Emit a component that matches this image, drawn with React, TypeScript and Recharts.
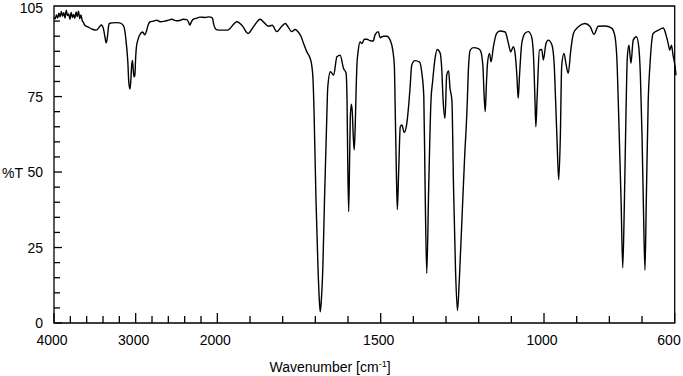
import React from "react";
import { LineChart, Line, XAxis, YAxis, ReferenceArea, Label } from "recharts";

// IR spectrum (cm-1 -> %T)
const wavenumbers = [
  4000, 3985, 3970, 3955, 3940, 3925, 3910, 3895, 3880, 3865, 3850, 3835, 3820, 3805, 3790,
  3775, 3760, 3745, 3730, 3715, 3700, 3685, 3670, 3655, 3640, 3626, 3580, 3530, 3482, 3440,
  3421, 3395, 3375, 3360, 3345, 3330, 3319, 3250, 3196, 3150, 3134, 3120, 3100, 3094, 3085,
  3070, 3060, 3050, 3040, 3030, 3020, 3010, 3000, 2991, 2970, 2951, 2914, 2890, 2870, 2850,
  2828, 2780, 2742, 2700, 2644, 2600, 2558, 2500, 2460, 2420, 2374, 2350, 2337, 2320, 2301,
  2250, 2215, 2150, 2100, 2060, 2045, 2030, 2010, 1991, 1969, 1940, 1924, 1906, 1887, 1869,
  1857, 1844, 1832, 1818, 1805, 1792, 1783, 1772, 1762, 1753, 1744, 1736, 1726, 1716, 1712,
  1707, 1704, 1698, 1692, 1688, 1685, 1682, 1677, 1672, 1665, 1662, 1654, 1644, 1634, 1624,
  1614, 1606, 1603, 1601, 1598, 1595, 1593, 1590, 1587, 1584, 1581, 1578, 1575, 1573, 1569,
  1563, 1557, 1550, 1542, 1532, 1523, 1517, 1507, 1502, 1492, 1481, 1471, 1463, 1458, 1456,
  1452, 1449, 1445, 1440, 1435, 1428, 1420, 1413, 1410, 1405, 1395, 1381, 1374, 1368, 1364,
  1359, 1353, 1346, 1341, 1334, 1327, 1318, 1313, 1309, 1303, 1298, 1292, 1288, 1282, 1277,
  1271, 1265, 1259, 1251, 1243, 1236, 1231, 1226, 1216, 1201, 1194, 1187, 1184, 1180, 1176,
  1173, 1167, 1162, 1155, 1145, 1135, 1119, 1109, 1102, 1094, 1089, 1083, 1079, 1075, 1068,
  1058, 1048, 1038, 1032, 1028, 1025, 1021, 1014, 1007, 1002, 994, 987, 976, 969, 965,
  960, 955, 950, 946, 939, 933, 926, 918, 910, 895, 875, 859, 847, 834, 813,
  793, 783, 776, 771, 764, 759, 754, 749, 745, 740, 734, 727, 717, 710, 705,
  700, 696, 691, 687, 681, 676, 666, 650, 635, 628, 620, 615, 610, 605, 599,
  596,
];
const transmittance = [
  101.2, 100.8, 102.0, 101.0, 102.6, 101.4, 103.2, 101.6, 102.8, 101.0, 103.6, 101.8, 102.4, 100.6, 102.9,
  101.2, 102.2, 100.9, 103.0, 101.5, 103.3, 100.8, 102.0, 100.2, 99.6, 98.7, 98.0, 97.3, 97.0, 98.2,
  98.7, 97.5, 94.5, 92.8, 95.0, 98.6, 99.3, 99.5, 99.4, 98.5, 97.0, 94.0, 88.0, 85.4, 80.0,
  77.5, 80.0, 85.0, 87.0, 84.0, 81.5, 82.0, 88.0, 91.4, 94.0, 95.4, 96.4, 95.5, 96.5, 98.5,
  99.7, 100.0, 100.3, 99.8, 100.0, 100.3, 100.6, 100.1, 100.2, 100.6, 100.5, 99.5, 98.7, 99.6, 100.5,
  101.0, 101.3, 101.2, 101.4, 101.0, 99.0, 97.8, 97.2, 97.0, 97.0, 99.8, 98.5, 95.9, 98.5, 100.6,
  99.5, 98.3, 98.6, 96.5, 98.0, 99.2, 98.0, 96.5, 97.2, 96.5, 95.0, 92.6, 89.8, 87.7, 86.0,
  80.5, 70.0, 40.7, 18.6, 8.0, 3.7, 7.0, 18.6, 40.7, 68.0, 78.0, 83.2, 82.1, 88.2, 88.7,
  84.4, 82.8, 73.8, 55.0, 36.9, 55.0, 68.0, 72.5, 70.0, 62.0, 57.3, 65.0, 78.0, 84.9, 90.0,
  93.1, 92.6, 94.0, 94.0, 93.5, 93.4, 95.5, 96.5, 94.5, 95.0, 95.0, 93.7, 90.4, 84.9, 73.8,
  50.0, 37.6, 50.0, 65.0, 65.6, 63.1, 66.1, 73.8, 78.0, 85.4, 86.9, 86.4, 82.8, 75.0, 45.0,
  16.5, 45.0, 73.8, 80.0, 87.3, 90.6, 89.4, 84.0, 74.0, 67.8, 82.0, 83.5, 78.0, 73.8, 45.0,
  18.0, 4.1, 15.0, 35.0, 55.0, 70.0, 85.0, 90.4, 91.2, 90.9, 90.1, 84.9, 77.0, 70.0, 80.0,
  86.0, 89.3, 86.5, 91.5, 95.9, 96.7, 96.4, 92.6, 89.8, 91.5, 89.7, 81.8, 74.4, 82.0, 92.7,
  96.0, 96.5, 94.8, 88.0, 75.0, 65.0, 75.0, 90.4, 90.6, 87.1, 92.6, 93.7, 92.2, 86.0, 75.0,
  60.0, 47.4, 62.0, 84.9, 89.3, 86.0, 82.7, 90.4, 95.9, 98.1, 99.2, 98.2, 95.6, 98.3, 98.4,
  97.7, 95.0, 85.0, 67.0, 40.0, 18.3, 40.0, 70.0, 88.0, 92.0, 86.0, 93.7, 94.8, 91.5, 82.0,
  62.0, 40.0, 17.5, 40.0, 74.0, 85.0, 95.9, 97.0, 97.7, 96.0, 92.6, 90.4, 92.0, 88.7, 85.0,
  82.0,
];

const xTickValues = [
  4000, 3800, 3600, 3400, 3200, 3000, 2800, 2600, 2400, 2200, 2000, 1900, 1800, 1700, 1600,
  1500, 1400, 1300, 1200, 1100, 1000, 900, 800, 700, 600,
];
const xTickLabels = [4000, 3000, 2000, 1500, 1000, 600];
const yTickValues = [0, 5, 10, 15, 20, 25, 30, 35, 40, 45, 50, 55, 60, 65, 70, 75, 80, 85, 90, 95, 100, 105];
const yTickLabels = [0, 25, 50, 75, 105];

// the axis is compressed 4x above 2000 cm-1
const toAxis = (wn: number) => (wn > 2000 ? 2000 + (wn - 2000) / 4 : wn);
const fromAxis = (t: number) => (t > 2000 ? 2000 + (t - 2000) * 4 : t);

const FONT = "'Liberation Sans', Arial, sans-serif";

const data = wavenumbers.map((wn, i) => ({ t: toAxis(wn), T: transmittance[i] }));

const XTick = (props: any) => {
  const { x, y, payload } = props;
  const wn = Math.round(fromAxis(payload.value));
  const major = xTickLabels.includes(wn);
  const len = major ? 10 : 7;
  return (
    <g>
      <line x1={x} x2={x} y1={y} y2={y - len} stroke="#000" strokeWidth={1.3} />
      {major && (
        <text
          x={wn === 600 ? x + 6 : x - 2}
          y={y + 22}
          textAnchor={wn === 600 ? "end" : "middle"}
          fontSize={14}
          fontFamily={FONT}
          fill="#000"
        >
          {wn}
        </text>
      )}
    </g>
  );
};

const YTick = (props: any) => {
  const { x, y, payload } = props;
  const v = payload.value;
  const labelled = yTickLabels.includes(v);
  const len = v % 25 === 0 && v < 100 ? 8 : 6;
  return (
    <g>
      {v < 105 && <line x1={x} x2={x + len} y1={y} y2={y} stroke="#000" strokeWidth={1.3} />}
      {labelled && (
        <text
          x={x - 11}
          y={v === 105 ? y + 7 : y + 5}
          textAnchor="end"
          fontSize={14}
          fontFamily={FONT}
          fill="#000"
        >
          {v}
        </text>
      )}
    </g>
  );
};

export default function App() {
  return (
    <div style={{ position: "absolute", left: 0, top: 0, width: 683, height: 376, background: "#fff" }}>
      <LineChart width={683} height={376} data={data} margin={{ top: 6, right: 7, bottom: 0, left: 0 }}>
        <XAxis
          dataKey="t"
          type="number"
          domain={[600, 2500]}
          reversed
          ticks={xTickValues.map(toAxis)}
          interval={0}
          tick={<XTick />}
          tickLine={false}
          tickSize={0}
          tickMargin={0}
          axisLine={false}
          height={53}
        >
          <Label
            content={() => (
              <text x={330} y={372} textAnchor="middle" fontSize={14} fontFamily={FONT} fill="#000">
                Wavenumber [cm
                <tspan dy={-5} fontSize={9}>-1</tspan>
                <tspan dy={5}>]</tspan>
              </text>
            )}
          />
        </XAxis>
        <YAxis
          type="number"
          domain={[0, 105]}
          ticks={yTickValues}
          interval={0}
          tick={<YTick />}
          tickLine={false}
          tickSize={0}
          tickMargin={0}
          axisLine={false}
          width={54}
        >
          <Label
            content={() => (
              <text x={2} y={178} textAnchor="start" fontSize={14} fontFamily={FONT} fill="#000">
                %T
              </text>
            )}
          />
        </YAxis>
        <ReferenceArea
          x1={600}
          x2={2500}
          y1={0}
          y2={105}
          fill="none"
          fillOpacity={0}
          stroke="#000"
          strokeWidth={1.3}
          ifOverflow="visible"
        />
        <Line
          dataKey="T"
          type="monotone"
          stroke="#000"
          strokeWidth={1.4}
          dot={false}
          isAnimationActive={false}
        />
      </LineChart>
    </div>
  );
}
